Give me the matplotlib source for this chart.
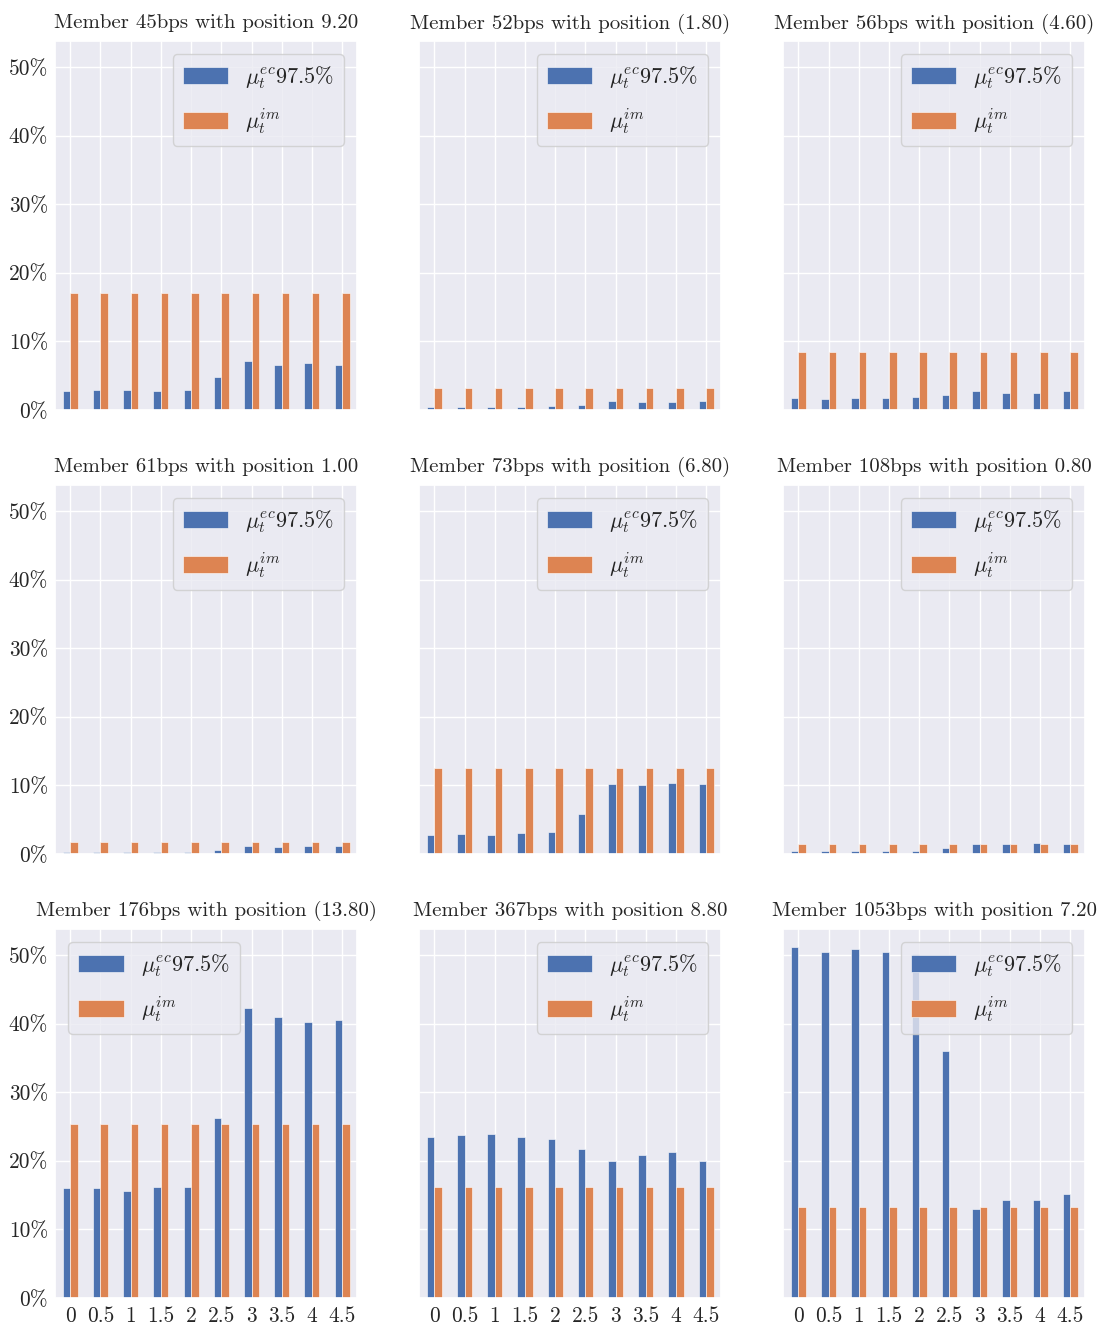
import numpy as np
import matplotlib
matplotlib.use("Agg")
import matplotlib.pyplot as plt
import seaborn as sns
from matplotlib.ticker import PercentFormatter

sns.set_theme(style="darkgrid")
plt.rcParams['font.family'] = 'serif'
plt.rcParams['font.serif'] = ['cmr10']
plt.rcParams['mathtext.fontset'] = 'cm'
plt.rcParams['axes.formatter.use_mathtext'] = True

# shocks on the x axis
shocks = ["0", "0.5", "1", "1.5", "2", "2.5", "3", "3.5", "4", "4.5"]

titles = [
    "Member 45bps with position 9.20",
    "Member 52bps with position (1.80)",
    "Member 56bps with position (4.60)",
    "Member 61bps with position 1.00",
    "Member 73bps with position (6.80)",
    "Member 108bps with position 0.80",
    "Member 176bps with position (13.80)",
    "Member 367bps with position 8.80",
    "Member 1053bps with position 7.20",
]

# mu_t^ec 97.5% (fraction)
mu_ec = [
    [0.027, 0.0295, 0.0295, 0.027, 0.0295, 0.0475, 0.071, 0.0655, 0.068, 0.0655],
    [0.0039, 0.0039, 0.0039, 0.0039, 0.0053, 0.0078, 0.0127, 0.0112, 0.0112, 0.0127],
    [0.0171, 0.0156, 0.0171, 0.0171, 0.0185, 0.0225, 0.0273, 0.0249, 0.0249, 0.0273],
    [0.0024, 0.0024, 0.0024, 0.0024, 0.0024, 0.0058, 0.0115, 0.010, 0.0115, 0.0115],
    [0.028, 0.0294, 0.028, 0.0304, 0.0319, 0.0584, 0.1019, 0.101, 0.1033, 0.1019],
    [0.0043, 0.0043, 0.0043, 0.0043, 0.0043, 0.0087, 0.0145, 0.0145, 0.0159, 0.0145],
    [0.161, 0.161, 0.156, 0.162, 0.162, 0.262, 0.423, 0.410, 0.402, 0.4055],
    [0.235, 0.237, 0.239, 0.235, 0.2315, 0.2165, 0.199, 0.208, 0.213, 0.200],
    [0.511, 0.505, 0.5085, 0.505, 0.502, 0.3605, 0.130, 0.143, 0.143, 0.152],
]

# mu_t^im (fraction), flat across shocks
mu_im = [0.170, 0.0327, 0.0848, 0.0178, 0.125, 0.0145, 0.254, 0.162, 0.132]

legend_loc = ["upper right"] * 9
legend_loc[6] = "upper left"

blue = "#4C72B0"
orange = "#DD8452"

fig, axes = plt.subplots(3, 3, figsize=(11.02, 13.34), sharex=True, sharey=True)
fig.subplots_adjust(left=0.05, right=0.985, top=0.9693, bottom=0.027,
                    wspace=0.205, hspace=0.203)

x = np.arange(len(shocks))
w = 0.25
for k, ax in enumerate(axes.flat):
    ax.bar(x - w / 2, mu_ec[k], w, color=blue, edgecolor="white", linewidth=0.4,
           label=r"$\mu_t^{ec}$97.5%")
    ax.bar(x + w / 2, [mu_im[k]] * len(shocks), w, color=orange, edgecolor="white",
           linewidth=0.4, label=r"$\mu_t^{im}$")
    ax.set_title(titles[k], fontsize=15.0, pad=9)
    ax.set_xlim(-0.5, len(shocks) - 0.5)
    ax.set_xticks(x)
    ax.set_xticklabels(shocks, rotation=0)
    ax.tick_params(axis="x", labelsize=15.4, pad=6, length=0)
    ax.tick_params(axis="y", labelsize=15.4, pad=5, length=0)
    ax.yaxis.set_major_formatter(PercentFormatter(1.0, decimals=0))
    ax.legend(loc=legend_loc[k], fontsize=16, framealpha=0.8, borderpad=0.45,
              borderaxespad=0.6, handletextpad=0.78, handlelength=2.03,
              handleheight=0.855, labelspacing=0.7)

axes[0, 0].set_ylim(0, 0.538)

plt.savefig("out.png", dpi=100)
